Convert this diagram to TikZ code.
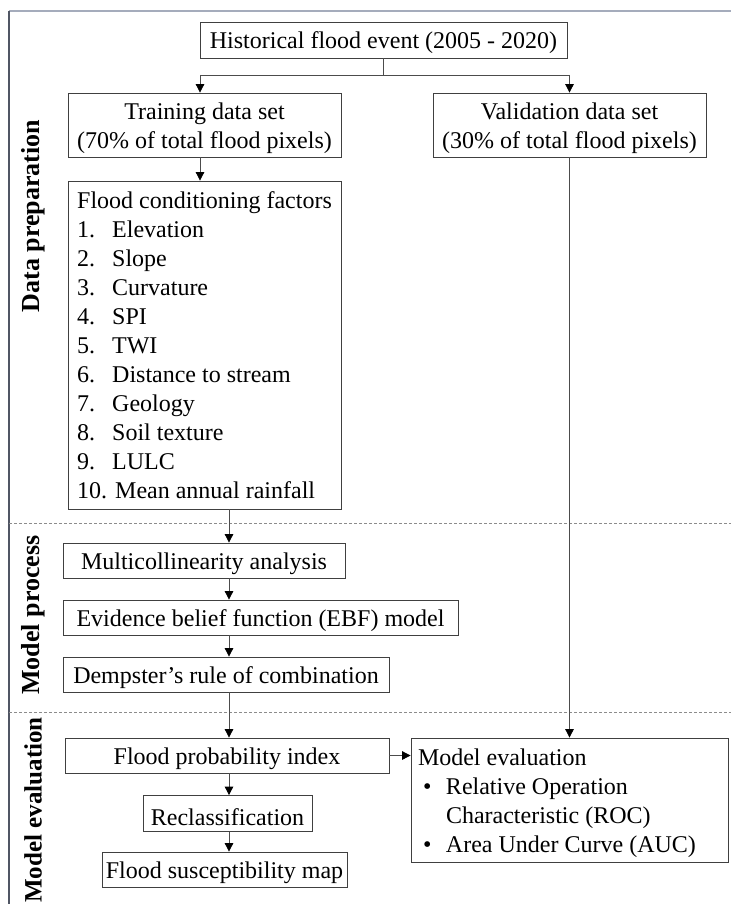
\documentclass[tikz,border=0pt]{standalone}
\usepackage{fontspec}
\setmainfont{Liberation Serif}
\usetikzlibrary{arrows.meta}
\definecolor{frametop}{RGB}{165,172,188}
\definecolor{frameleft}{RGB}{80,86,100}
\newcommand\mystrut{\rule{0pt}{24pt}}
\begin{document}
\begin{tikzpicture}[x=1pt,y=-1pt,
  every node/.style={font=\fontsize{24}{29}\selectfont},
  box/.style={draw=black!75, line width=0.8pt, inner sep=0pt, align=center},
  conn/.style={draw=black!70, line width=0.8pt},
  arr/.style={conn, -{Triangle[length=8.5pt,width=8.5pt,color=black]}},
  sect/.style={font=\fontsize{26}{31}\selectfont\bfseries, rotate=90, inner sep=0pt},
  sep/.style={draw=black!45, line width=0.9pt, dash pattern=on 3pt off 2pt}]
\useasboundingbox (0,0) rectangle (731,904);
% frame
\draw[draw=frametop, line width=2pt] (9,11) -- (731,11);
\draw[draw=frameleft, line width=1.5pt] (9,11) -- (9,904);
% section separators
\draw[sep] (9,523) -- (731,523);
\draw[sep] (9,712) -- (731,712);
% section labels
\node[sect] (lprep) at (33,216) {Data preparation};
\node[sect] (lproc) at (33,615) {Model process};
\node[sect, font=\fontsize{25}{30}\selectfont\bfseries] (leval) at (33,810) {Model evaluation};
% boxes
\node[box, minimum width=367pt, minimum height=36pt] (hist) at (383.5,40) {\rule{0pt}{22pt}Historical flood event (2005 - 2020)};
\node[box, minimum width=273pt, minimum height=64pt] (train) at (204.5,125) {\mystrut Training data set\\(70\% of total flood pixels)};
\node[box, minimum width=273pt, minimum height=64pt] (valid) at (569.5,125) {\mystrut Validation data set\\(30\% of total flood pixels)};
\node[box, align=left, minimum width=273pt, minimum height=328pt] (factors) at (204.5,345) {Flood conditioning factors\\
\makebox[35pt][l]{1.}Elevation\\
\makebox[35pt][l]{2.}Slope\\
\makebox[35pt][l]{3.}Curvature\\
\makebox[35pt][l]{4.}SPI\\
\makebox[35pt][l]{5.}TWI\\
\makebox[35pt][l]{6.}Distance to stream\\
\makebox[35pt][l]{7.}Geology\\
\makebox[35pt][l]{8.}Soil texture\\
\makebox[35pt][l]{9.}LULC\\
10. Mean annual rainfall};
\node[box, minimum width=282pt, minimum height=35pt] (multi) at (204,560.5) {\mystrut Multicollinearity analysis};
\node[box, minimum width=395pt, minimum height=35pt] (ebf) at (260.5,617.5) {\mystrut Evidence belief function (EBF) model};
\node[box, minimum width=326pt, minimum height=35pt] (demp) at (226,674.5) {\mystrut Dempster’s rule of combination};
\node[box, minimum width=324pt, minimum height=35pt] (fpi) at (227,755.5) {\mystrut Flood probability index};
\node[box, minimum width=169pt, minimum height=36pt] (recl) at (227.5,813.5) {\mystrut Reclassification};
\node[box, minimum width=245pt, minimum height=35pt] (fsm) at (224.5,869.5) {\mystrut Flood susceptibility map};
\node[box, align=flush left, text width=303pt, inner xsep=7pt, minimum width=317pt, minimum height=124pt] (meval) at (569.5,800) {\rule{0pt}{23pt}Model evaluation\\
\hspace*{5pt}\makebox[23pt][l]{•}Relative Operation\\
\hspace*{28pt}Characteristic (ROC)\\
\hspace*{5pt}\makebox[23pt][l]{•}Area Under Curve (AUC)};
% connectors
\coordinate (split) at (383.5,75);
\coordinate (lt) at (200,75);
\coordinate (rt) at (569.5,75);
\coordinate (mx) at (229,0);
\draw[conn] (hist.south) -- (split);
\draw[conn] (lt) -- (rt);
\draw[arr] (lt) -- (lt |- train.north);
\draw[arr] (rt) -- (rt |- valid.north);
\draw[arr] (train.south -| lt) -- (factors.north -| lt);
\draw[arr] (factors.south -| mx) -- (multi.north -| mx);
\draw[arr] (multi.south -| mx) -- (ebf.north -| mx);
\draw[arr] (ebf.south -| mx) -- (demp.north -| mx);
\draw[arr] (demp.south -| mx) -- (fpi.north -| mx);
\draw[arr] (fpi.south -| mx) -- (recl.north -| mx);
\draw[arr] (recl.south -| mx) -- (fsm.north -| mx);
\draw[arr] (valid.south) -- (meval.north -| valid.south);
\draw[arr] (fpi.east) -- (fpi.east -| meval.west);
\end{tikzpicture}
\end{document}
